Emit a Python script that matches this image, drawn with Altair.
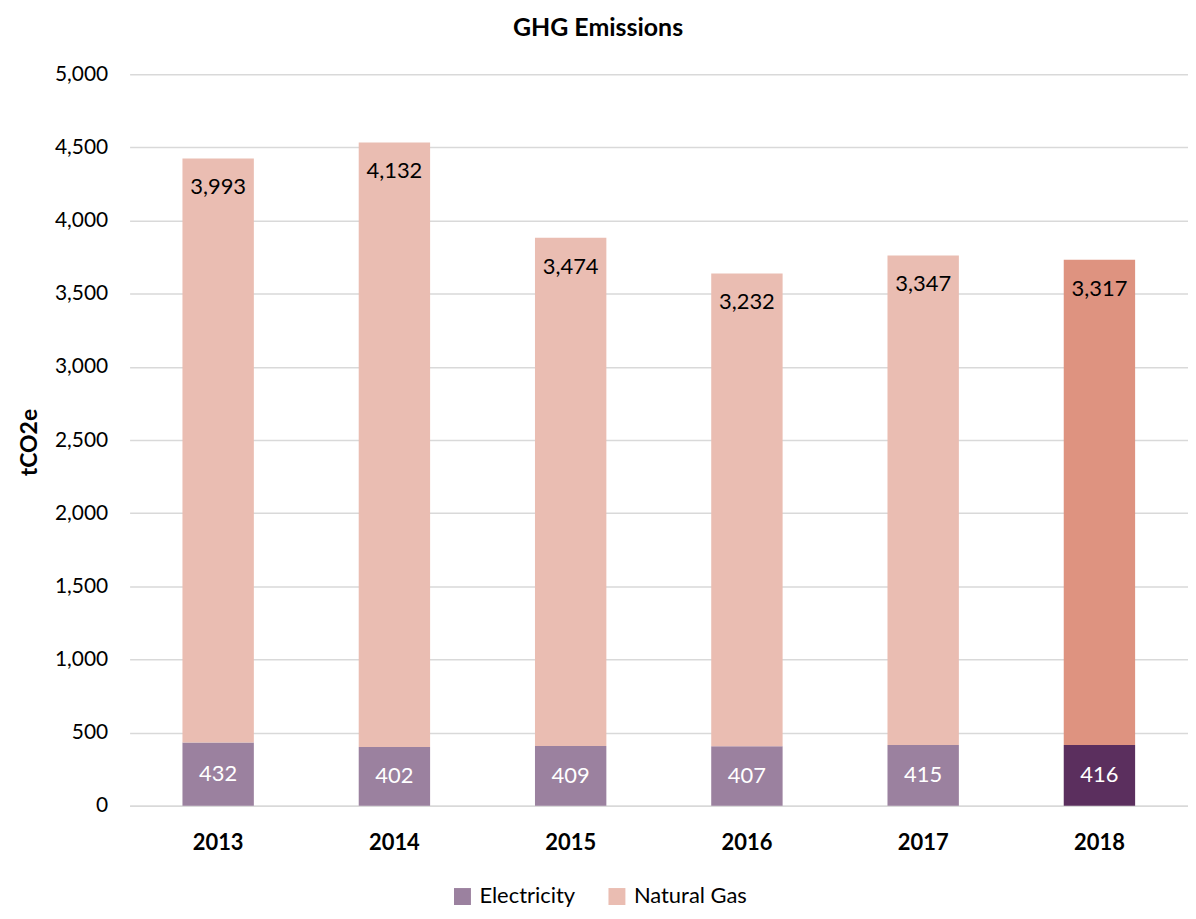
import altair as alt
import pandas as pd

years = ["2013", "2014", "2015", "2016", "2017", "2018"]
electricity = [432, 402, 409, 407, 415, 416]
natural_gas = [3993, 4132, 3474, 3232, 3347, 3317]

rows = []
for y, e, g in zip(years, electricity, natural_gas):
    hl = " 2018" if y == "2018" else ""
    rows.append({"Year": y, "Source": "Electricity", "Value": e, "shade": "Electricity" + hl, "ord": 0,
                 "start": 0, "end": e})
    rows.append({"Year": y, "Source": "Natural Gas", "Value": g, "shade": "Natural Gas" + hl, "ord": 1,
                 "start": e, "end": e + g})
df = pd.DataFrame(rows)

FONT = "Lato"
shade_domain = ["Electricity", "Natural Gas", "Electricity 2018", "Natural Gas 2018"]
shade_range = ["#9B819F", "#EABDB2", "#5B2F5E", "#DE9380"]

x_enc = alt.X("Year:N", title=None,
              scale=alt.Scale(paddingInner=0.595, paddingOuter=0.3),
              axis=alt.Axis(labelAngle=0, labelFont=FONT, labelFontSize=22, labelFontWeight="bold",
                            labelColor="#000000", labelPadding=27, ticks=False, domain=True,
                            domainColor="#D9D9D9", domainWidth=1.5, grid=False))

bars = alt.Chart(df).mark_bar().encode(
    x=x_enc,
    y=alt.Y("start:Q", title="tCO2e",
            scale=alt.Scale(domain=[0, 5000]),
            axis=alt.Axis(values=list(range(0, 5001, 500)), format=",.0f", labelFont=FONT,
                          labelFontSize=21, labelColor="#000000", labelPadding=22,
                          ticks=False, domain=False, gridColor="#D9D9D9", gridWidth=1.5,
                          titleFont=FONT, titleFontSize=23, titleFontWeight="bold",
                          titleColor="#000000", titleX=-100, titleY=369, titleAngle=270,
                          titleAlign="center", titleBaseline="middle")),
    y2="end:Q",
    color=alt.Color("shade:N", title=None,
                    scale=alt.Scale(domain=shade_domain, range=shade_range),
                    legend=alt.Legend(values=["Electricity", "Natural Gas"], orient="none",
                                      legendX=323, legendY=814,
                                      direction="horizontal", symbolType="square", symbolSize=289,
                                      symbolStrokeWidth=0, labelFont=FONT, labelFontSize=22,
                                      labelColor="#000000", columnPadding=30, labelOffset=6)),
)

elec_labels = alt.Chart(df).transform_filter("datum.Source == 'Electricity'").transform_calculate(
    mid="datum.end / 2"
).mark_text(font=FONT, fontSize=22, color="#FFFFFF").encode(
    x=alt.X("Year:N"),
    y=alt.Y("mid:Q"),
    text=alt.Text("Value:Q", format=","),
)

gas_labels = alt.Chart(df).transform_filter("datum.Source == 'Natural Gas'").mark_text(
    font=FONT, fontSize=22, color="#000000", dy=29
).encode(
    x=alt.X("Year:N"),
    y=alt.Y("end:Q"),
    text=alt.Text("Value:Q", format=","),
)

chart = alt.layer(bars, elec_labels, gas_labels).properties(
    width=1062, height=734,
    title=alt.TitleParams("GHG Emissions", font=FONT, fontSize=25, fontWeight="bold",
                          color="#000000", offset=22, anchor="middle", dx=-61),
    autosize=alt.AutoSizeParams(type="none"),
    padding={"left": 122, "top": 65, "right": 0, "bottom": 104},
).configure_view(stroke=None)

chart.save("out.html", embed_options={"renderer": "svg", "actions": False})
